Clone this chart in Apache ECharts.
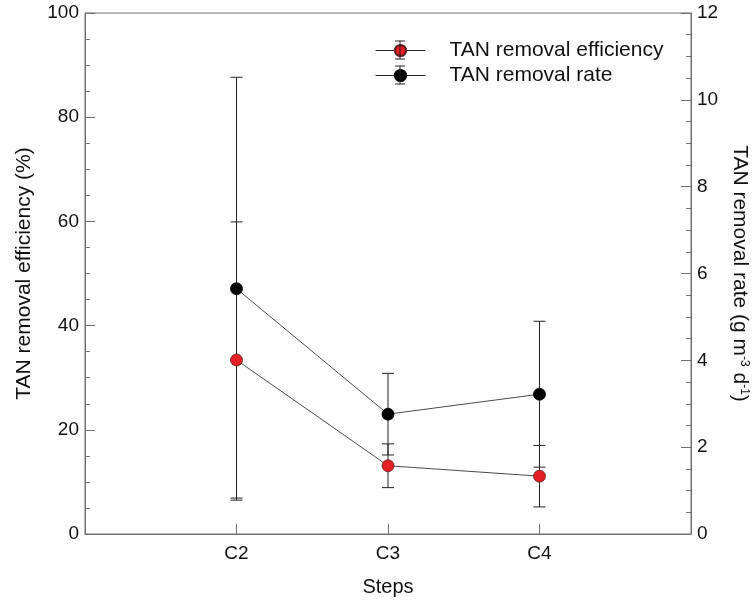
<!DOCTYPE html>
<html>
<head>
<meta charset="utf-8">
<script src="https://cdn.jsdelivr.net/npm/echarts@6/dist/echarts.min.js"></script>
<style>
  html, body { margin: 0; padding: 0; background: #fff; }
  #chart { width: 754px; height: 602px; }
</style>
</head>
<body>
<div id="chart"></div>
<script>
// steps on the x axis, padded with an empty slot each side
const steps = ["C2", "C3", "C4"];
const axisSlots = ["", ...steps, ""];

// TAN removal efficiency (%) - left axis
const efficiency = [33.4, 13.1, 11.1];
const efficiencyErr = [26.5, 4.2, 5.9];

// TAN removal rate (g m-3 d-1) - right axis
const rate = [5.65, 2.76, 3.22];
const rateErr = [4.87, 0.94, 1.68];

const leftTicks = { min: 0, max: 100, interval: 20 };
const rightTicks = { min: 0, max: 12, interval: 2 };

const font = "Liberation Sans, Arial, sans-serif";
const axisGray = "#707070";

const pad = (arr) => [null, ...arr, null];

function errData(vals, errs) {
  return vals.map((v, i) => [i + 1, v - errs[i], v + errs[i]]);
}

function errorBar(params, api) {
  const x = api.value(0);
  const lo = api.coord([x, api.value(1)]);
  const hi = api.coord([x, api.value(2)]);
  const cap = 6;
  const style = { stroke: "#222", lineWidth: 1 };
  return {
    type: "group",
    children: [
      { type: "line", shape: { x1: lo[0], y1: lo[1], x2: hi[0], y2: hi[1] }, style },
      { type: "line", shape: { x1: hi[0] - cap, y1: hi[1], x2: hi[0] + cap, y2: hi[1] }, style },
      { type: "line", shape: { x1: lo[0] - cap, y1: lo[1], x2: lo[0] + cap, y2: lo[1] }, style },
    ],
  };
}

function yAxis(ticks, position, name, nameGap, nameRotate) {
  return {
    type: "value",
    position,
    min: ticks.min,
    max: ticks.max,
    interval: ticks.interval,
    name,
    nameLocation: "middle",
    nameGap,
    nameRotate,
    nameTextStyle: { fontFamily: font, fontSize: 21, color: "#111", rich: {
      sup: { fontFamily: font, fontSize: 12, color: "#111", verticalAlign: "top", padding: [0, 0, 9, 0] },
    } },
    axisLine: { show: true, lineStyle: { color: axisGray, width: 1 } },
    axisTick: { show: true, inside: true, length: 10, lineStyle: { color: axisGray } },
    minorTick: { show: true, splitNumber: 4, length: 5, lineStyle: { color: axisGray } },
    axisLabel: { fontFamily: font, fontSize: 19, color: "#111", margin: 6 },
    splitLine: { show: false },
  };
}

// small error-bar glyphs on the legend icons
function legendBar(x, y) {
  const s = { stroke: "#222", lineWidth: 1 };
  return [
    { type: "line", shape: { x1: x, y1: y - 9, x2: x, y2: y + 9 }, style: s, z: 10 },
    { type: "line", shape: { x1: x - 5, y1: y - 9, x2: x + 5, y2: y - 9 }, style: s, z: 10 },
    { type: "line", shape: { x1: x - 5, y1: y + 9, x2: x + 5, y2: y + 9 }, style: s, z: 10 },
  ];
}

const chart = echarts.init(document.getElementById("chart"), null, { renderer: "canvas" });

chart.setOption({
  animation: false,
  backgroundColor: "#fff",
  grid: {
    left: 85, right: 63, top: 13, bottom: 68,
    outerBoundsMode: "none",
    show: true, borderColor: axisGray, borderWidth: 1,
  },
  legend: {
    orient: "vertical",
    left: 375,
    top: 40,
    padding: 0,
    itemWidth: 50,
    itemHeight: 14,
    itemGap: 4,
    data: ["TAN removal efficiency", "TAN removal rate"],
    lineStyle: { width: 1, color: "#222" },
    textStyle: { fontFamily: font, fontSize: 21, lineHeight: 21, color: "#111", padding: [0, 0, 0, 19] },
  },
  graphic: [...legendBar(400, 50), ...legendBar(400, 75)],
  xAxis: {
    type: "category",
    data: axisSlots,
    boundaryGap: false,
    name: "Steps",
    nameLocation: "middle",
    nameGap: 43,
    nameTextStyle: { fontFamily: font, fontSize: 20, color: "#111" },
    axisLine: { show: true, lineStyle: { color: axisGray } },
    axisTick: {
      show: true,
      inside: true,
      length: 10,
      interval: (i, v) => v !== "",
      lineStyle: { color: axisGray },
    },
    axisLabel: { fontFamily: font, fontSize: 19, color: "#111", margin: 10, interval: 0 },
    splitLine: { show: false },
  },
  yAxis: [
    yAxis(leftTicks, "left", "TAN removal efficiency (%)", 50, 90),
    yAxis(rightTicks, "right", "TAN removal rate (g m{sup|-3} d{sup|-1})", 38, -90),
  ],
  series: [
    {
      type: "custom",
      yAxisIndex: 0,
      renderItem: errorBar,
      encode: { x: 0, y: [1, 2] },
      data: errData(efficiency, efficiencyErr),
      z: 1,
    },
    {
      type: "custom",
      yAxisIndex: 1,
      renderItem: errorBar,
      encode: { x: 0, y: [1, 2] },
      data: errData(rate, rateErr),
      z: 1,
    },
    {
      name: "TAN removal efficiency",
      type: "line",
      yAxisIndex: 0,
      data: pad(efficiency),
      symbol: "circle",
      symbolSize: 12,
      lineStyle: { color: "#4a4a4a", width: 1 },
      itemStyle: { color: "#e31e24", borderColor: "#5a2020", borderWidth: 0.8 },
      z: 3,
    },
    {
      name: "TAN removal rate",
      type: "line",
      yAxisIndex: 1,
      data: pad(rate),
      symbol: "circle",
      symbolSize: 12,
      lineStyle: { color: "#4a4a4a", width: 1 },
      itemStyle: { color: "#000", borderColor: "#000", borderWidth: 0.8 },
      z: 3,
    },
  ],
});
</script>
</body>
</html>
